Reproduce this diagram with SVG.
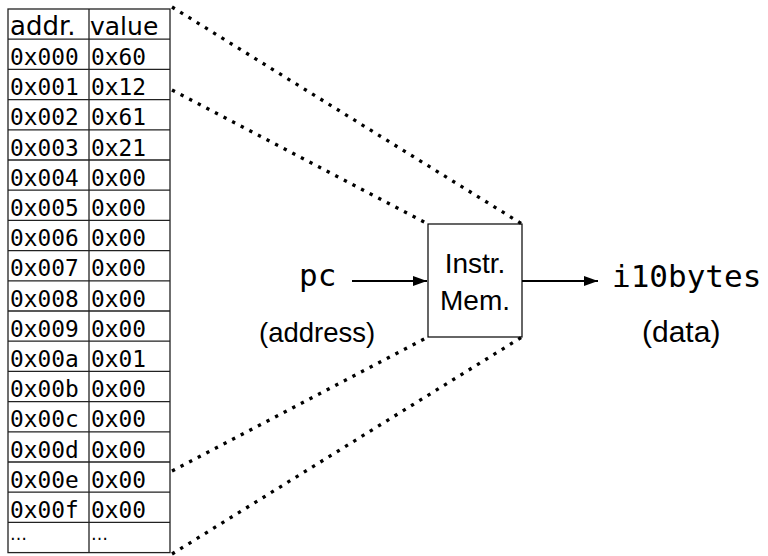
<svg xmlns="http://www.w3.org/2000/svg" width="768" height="556" viewBox="0 0 768 556">
<defs>
<style>
.grid{stroke:#222;stroke-width:1.3;fill:none}
.mono{font-family:"DejaVu Sans Mono",monospace;fill:#000}
.cell{font-size:22.8px}
.big{font-size:31px}
.sans{font-family:"DejaVu Sans",sans-serif;fill:#000}
.lab{font-family:"Liberation Sans",Arial,sans-serif;fill:#000}
.dot{stroke:#000;stroke-width:3.3;stroke-dasharray:3.3 6.4;fill:none}
.wire{stroke:#000;stroke-width:2;fill:none}
</style>
<marker id="ah" viewBox="0 0 14 10" refX="14" refY="5" markerWidth="14" markerHeight="10" markerUnits="userSpaceOnUse" orient="auto">
<path d="M0,0 L14,5 L0,10 Z" fill="#000"/>
</marker>
</defs>
<rect width="768" height="556" fill="#fff"/>
<g id="memory-table">
<rect class="grid" x="8" y="9" width="162" height="543.6"/>
<line class="grid" x1="89" y1="9" x2="89" y2="552.6"/>
<path class="grid" d="M8,39.2H170M8,69.4H170M8,99.6H170M8,129.8H170M8,160H170M8,190.2H170M8,220.4H170M8,250.6H170M8,280.8H170M8,311H170M8,341.2H170M8,371.4H170M8,401.6H170M8,431.8H170M8,462H170M8,492.2H170M8,522.4H170"/>
<text class="sans" x="10" y="35" style="font-size:26px">addr.</text>
<text class="sans" x="90" y="35" style="font-size:25px">value</text>
<g class="mono cell">
<text x="10" y="65">0x000</text><text x="91" y="65">0x60</text>
<text x="10" y="95.2">0x001</text><text x="91" y="95.2">0x12</text>
<text x="10" y="125.4">0x002</text><text x="91" y="125.4">0x61</text>
<text x="10" y="155.6">0x003</text><text x="91" y="155.6">0x21</text>
<text x="10" y="185.8">0x004</text><text x="91" y="185.8">0x00</text>
<text x="10" y="216">0x005</text><text x="91" y="216">0x00</text>
<text x="10" y="246.2">0x006</text><text x="91" y="246.2">0x00</text>
<text x="10" y="276.4">0x007</text><text x="91" y="276.4">0x00</text>
<text x="10" y="306.6">0x008</text><text x="91" y="306.6">0x00</text>
<text x="10" y="336.8">0x009</text><text x="91" y="336.8">0x00</text>
<text x="10" y="367">0x00a</text><text x="91" y="367">0x01</text>
<text x="10" y="397.2">0x00b</text><text x="91" y="397.2">0x00</text>
<text x="10" y="427.4">0x00c</text><text x="91" y="427.4">0x00</text>
<text x="10" y="457.6">0x00d</text><text x="91" y="457.6">0x00</text>
<text x="10" y="487.8">0x00e</text><text x="91" y="487.8">0x00</text>
<text x="10" y="518">0x00f</text><text x="91" y="518">0x00</text>
</g>
<text class="sans" x="10" y="540" style="font-size:17px">…</text>
<text class="sans" x="91" y="540" style="font-size:17px">…</text>
</g>
<g id="instr-mem">
<rect x="428" y="224" width="94" height="113" fill="#fff" stroke="#000" stroke-width="1.2"/>
<text class="lab" x="475" y="272.7" style="font-size:28px" text-anchor="middle">Instr.</text>
<text class="lab" x="475" y="310" style="font-size:28px" text-anchor="middle">Mem.</text>
</g>
<g id="pc-label">
<text class="mono big" x="299" y="285.7">pc</text>
<text class="lab" x="259" y="341.7" style="font-size:27.5px">(address)</text>
</g>
<g id="output-label">
<text class="mono big" x="612" y="287">i10bytes</text>
<text class="lab" x="642" y="342" style="font-size:30px">(data)</text>
</g>
<g id="connectors">
<line class="dot" x1="172" y1="7" x2="522" y2="224"/>
<line class="dot" x1="172" y1="90" x2="428" y2="224"/>
<line class="dot" x1="172" y1="471" x2="428" y2="337"/>
<line class="dot" x1="172" y1="554" x2="522" y2="337"/>
<line class="wire" x1="352" y1="281" x2="427" y2="281" marker-end="url(#ah)"/>
<line class="wire" x1="522" y1="281" x2="598" y2="281" marker-end="url(#ah)"/>
</g>
</svg>
